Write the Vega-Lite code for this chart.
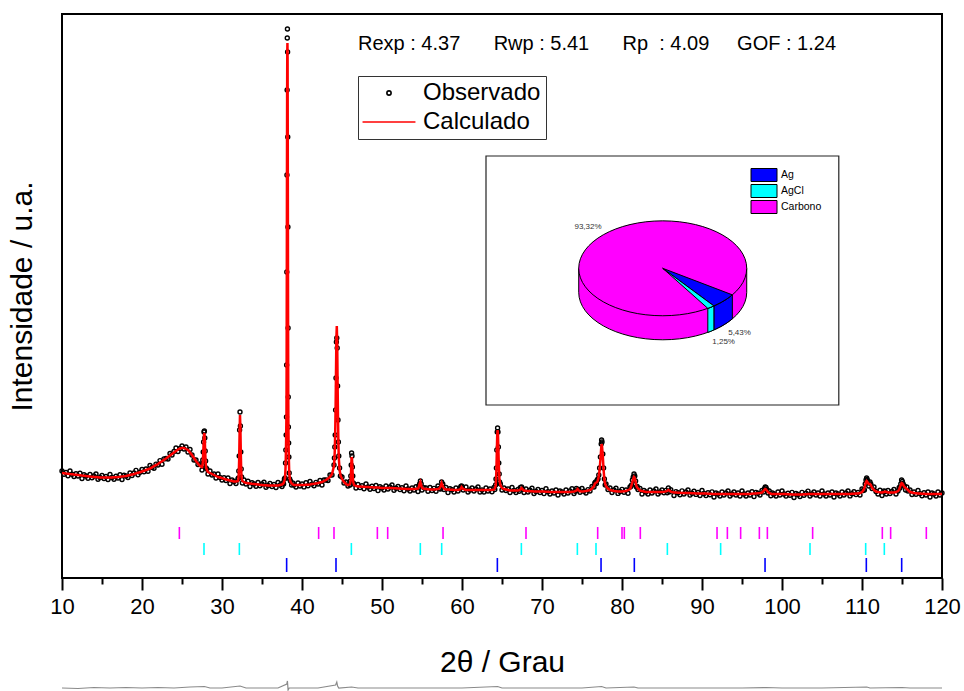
{
"$schema": "https://vega.github.io/schema/vega-lite/v6.json",
"width": 880, "height": 564,
"autosize": {"type": "none"},
"padding": {"left": 62, "top": 14, "right": 22, "bottom": 113},
"background": "white",
"config": {"font": "Liberation Sans", "view": {"stroke": "black", "strokeWidth": 2}},
"resolve": {"axis": {"x": "independent"}},
"datasets": {
"xrd": [
{"t":10,"c":105,"o":107},{"t":10.25,"c":104.8,"o":103.8},{"t":10.5,"c":104.5,"o":105.5},{"t":10.75,"c":104.3,"o":102.3},{"t":11,"c":104,"o":107},{"t":11.25,"c":103.8,"o":103.8},{"t":11.5,"c":103.5,"o":101.5},{"t":11.75,"c":103.3,"o":104.3},{"t":12,"c":103,"o":102},{"t":12.25,"c":102.8,"o":104.8},{"t":12.5,"c":102.5,"o":99.5},{"t":12.75,"c":102.3,"o":103.3},{"t":13,"c":102,"o":102},{"t":13.25,"c":101.8,"o":99.8},{"t":13.5,"c":101.5,"o":103.5},{"t":13.75,"c":101.3,"o":100.3},{"t":14,"c":101,"o":102},{"t":14.25,"c":101,"o":104},{"t":14.5,"c":100.8,"o":98.8},{"t":14.75,"c":100.6,"o":100.6},
{"t":15,"c":100.5,"o":102.5},{"t":15.25,"c":100.5,"o":99.5},{"t":15.5,"c":100.5,"o":101.5},{"t":15.75,"c":100.5,"o":98.5},{"t":16,"c":100.5,"o":103.5},{"t":16.25,"c":100.6,"o":100.6},{"t":16.5,"c":100.7,"o":98.7},{"t":16.75,"c":100.8,"o":101.8},{"t":17,"c":101,"o":100},{"t":17.25,"c":101.2,"o":103.2},{"t":17.5,"c":101.5,"o":98.5},{"t":17.75,"c":101.7,"o":102.7},{"t":18,"c":102,"o":102},{"t":18.25,"c":102.5,"o":100.5},{"t":18.5,"c":103,"o":105},{"t":18.75,"c":103.5,"o":102.5},{"t":19,"c":104,"o":105},{"t":19.25,"c":104.6,"o":107.6},{"t":19.5,"c":105.2,"o":103.2},{"t":19.75,"c":105.8,"o":105.8},
{"t":20,"c":106.5,"o":108.5},{"t":20.25,"c":107.2,"o":106.2},{"t":20.5,"c":108,"o":109},{"t":20.75,"c":108.7,"o":106.7},{"t":21,"c":109.5,"o":112.5},{"t":21.25,"c":110.6,"o":110.6},{"t":21.5,"c":111.8,"o":109.8},{"t":21.75,"c":112.9,"o":113.9},{"t":22,"c":114,"o":113},{"t":22.25,"c":115.4,"o":117.4},{"t":22.5,"c":116.8,"o":113.8},{"t":22.75,"c":118.1,"o":119.1},{"t":23,"c":119.5,"o":119.5},{"t":23.25,"c":121,"o":119},{"t":23.5,"c":122.5,"o":124.5},{"t":23.75,"c":124,"o":123},{"t":24,"c":125.5,"o":126.5},{"t":24.25,"c":127,"o":130},{"t":24.5,"c":128.5,"o":126.5},{"t":24.75,"c":129.5,"o":129.5},
{"t":25,"c":130,"o":132},{"t":25.25,"c":130,"o":129},{"t":25.5,"c":129,"o":131},{"t":25.75,"c":128,"o":126},{"t":26,"c":125.5,"o":128.5},{"t":26.25,"c":123,"o":123},{"t":26.5,"c":120,"o":118},{"t":26.75,"c":117,"o":118},{"t":27,"c":114.5,"o":113.5},{"t":27.25,"c":112,"o":114},{"t":27.5,"c":111,"o":108},
{"t":27.55,"c":112,"o":113},{"t":27.6,"c":116,"o":118},{"t":27.65,"c":124,"o":126},{"t":27.7,"c":134,"o":136},{"t":27.75,"c":143,"o":146},{"t":27.8,"c":145,"o":147},{"t":27.85,"c":138,"o":140},{"t":27.9,"c":126,"o":127},{"t":27.95,"c":116,"o":117},{"t":28,"c":111,"o":110},{"t":28.1,"c":108,"o":109},{"t":28.25,"c":106,"o":104},{"t":28.5,"c":105,"o":107},{"t":28.75,"c":104,"o":103},{"t":29,"c":103,"o":104},{"t":29.25,"c":102,"o":100},{"t":29.5,"c":101,"o":104},{"t":29.75,"c":100.5,"o":100.5},
{"t":30,"c":100,"o":98},{"t":30.25,"c":99.2,"o":100.2},{"t":30.5,"c":98.5,"o":97.5},{"t":30.75,"c":98,"o":100},{"t":31,"c":97.5,"o":94.5},{"t":31.25,"c":97,"o":98},{"t":31.5,"c":96.5,"o":96.5},{"t":31.75,"c":96.5,"o":94.5},{"t":32,"c":97,"o":99},
{"t":32.05,"c":99,"o":100},{"t":32.1,"c":105,"o":107},{"t":32.15,"c":120,"o":122},{"t":32.2,"c":145,"o":148},{"t":32.25,"c":163,"o":166},{"t":32.3,"c":150,"o":152},{"t":32.35,"c":125,"o":126},{"t":32.4,"c":108,"o":109},{"t":32.45,"c":100,"o":101},{"t":32.55,"c":97,"o":95},{"t":32.75,"c":96,"o":98},
{"t":33,"c":95,"o":94},{"t":33.25,"c":94.8,"o":96.8},{"t":33.5,"c":94.5,"o":91.5},{"t":33.75,"c":94.2,"o":95.2},{"t":34,"c":94,"o":94},{"t":34.25,"c":93.8,"o":91.8},{"t":34.5,"c":93.5,"o":95.5},{"t":34.75,"c":93.2,"o":92.2},{"t":35,"c":93,"o":94},{"t":35.25,"c":92.8,"o":95.8},{"t":35.5,"c":92.7,"o":90.7},{"t":35.75,"c":92.6,"o":92.6},{"t":36,"c":92.5,"o":94.5},{"t":36.25,"c":92.5,"o":91.5},{"t":36.5,"c":92.5,"o":93.5},{"t":36.75,"c":92.5,"o":90.5},{"t":37,"c":92.5,"o":95.5},{"t":37.25,"c":93,"o":93},{"t":37.5,"c":93.5,"o":91.5},{"t":37.6,"c":94,"o":95},{"t":37.7,"c":95,"o":94},{"t":37.8,"c":97,"o":99},
{"t":37.88,"c":100,"o":100},{"t":37.94,"c":110,"o":115},{"t":37.98,"c":122,"o":128},{"t":38.02,"c":140,"o":143},{"t":38.06,"c":165,"o":161},{"t":38.08,"c":215,"o":213},{"t":38.1,"c":300,"o":306},{"t":38.12,"c":400,"o":403},{"t":38.14,"c":480,"o":488},{"t":38.16,"c":525,"o":540},{"t":38.18,"c":535,"o":549},{"t":38.2,"c":518,"o":526},{"t":38.22,"c":440,"o":441},{"t":38.24,"c":350,"o":351},{"t":38.26,"c":255,"o":250},{"t":38.28,"c":185,"o":181},{"t":38.3,"c":152,"o":151},{"t":38.33,"c":130,"o":135},{"t":38.36,"c":118,"o":121},{"t":38.4,"c":106,"o":105},{"t":38.46,"c":100,"o":99},{"t":38.55,"c":96.5,"o":97},{"t":38.7,"c":94.5,"o":93},{"t":38.85,"c":93.5,"o":95},
{"t":39,"c":93,"o":93},{"t":39.25,"c":93,"o":91},{"t":39.5,"c":93,"o":95},{"t":39.75,"c":93,"o":92},{"t":40,"c":93,"o":94},{"t":40.25,"c":93.1,"o":91.1},{"t":40.5,"c":93.2,"o":95.2},{"t":40.75,"c":93.3,"o":92.3},{"t":41,"c":93.5,"o":96.5},{"t":41.25,"c":93.9,"o":93.9},{"t":41.5,"c":94.2,"o":92.2},{"t":41.75,"c":94.6,"o":95.6},{"t":42,"c":95,"o":94},{"t":42.25,"c":95.5,"o":97.5},{"t":42.5,"c":96,"o":93},{"t":42.75,"c":97,"o":98},{"t":43,"c":98,"o":98},{"t":43.25,"c":99.5,"o":97.5},{"t":43.5,"c":101,"o":103},{"t":43.75,"c":104,"o":103},{"t":44,"c":112,"o":113},
{"t":44.05,"c":118,"o":120},{"t":44.1,"c":128,"o":131},{"t":44.15,"c":145,"o":143},{"t":44.2,"c":170,"o":168},{"t":44.25,"c":205,"o":200},{"t":44.3,"c":240,"o":236},{"t":44.35,"c":252,"o":240},{"t":44.4,"c":235,"o":230},{"t":44.45,"c":195,"o":192},{"t":44.5,"c":160,"o":158},{"t":44.55,"c":135,"o":136},{"t":44.6,"c":120,"o":122},{"t":44.7,"c":108,"o":110},{"t":44.8,"c":103,"o":102},{"t":45,"c":99,"o":101},{"t":45.25,"c":96,"o":95},{"t":45.5,"c":94,"o":96},{"t":45.75,"c":93,"o":92},{"t":46,"c":94,"o":93},
{"t":46.05,"c":96,"o":97},{"t":46.1,"c":100,"o":102},{"t":46.15,"c":110,"o":113},{"t":46.2,"c":121,"o":125},{"t":46.25,"c":119,"o":122},{"t":46.3,"c":110,"o":111},{"t":46.35,"c":101,"o":102},{"t":46.4,"c":96,"o":95},{"t":46.5,"c":93,"o":94},{"t":46.75,"c":92,"o":90},
{"t":47,"c":91.5,"o":93.5},{"t":47.25,"c":91.4,"o":90.4},{"t":47.5,"c":91.3,"o":92.3},{"t":47.75,"c":91.2,"o":89.2},{"t":48,"c":91,"o":94},{"t":48.25,"c":91,"o":91},{"t":48.5,"c":90.8,"o":88.8},{"t":48.75,"c":90.7,"o":91.7},{"t":49,"c":90.5,"o":89.5},{"t":49.25,"c":90.5,"o":92.5},{"t":49.5,"c":90.4,"o":87.4},{"t":49.75,"c":90.2,"o":91.2},{"t":50,"c":90,"o":90},{"t":50.25,"c":90,"o":88},{"t":50.5,"c":90,"o":92},{"t":50.75,"c":90,"o":89},{"t":51,"c":90,"o":91},{"t":51.25,"c":90,"o":93},{"t":51.5,"c":89.8,"o":87.8},{"t":51.75,"c":89.7,"o":89.7},{"t":52,"c":89.5,"o":91.5},{"t":52.25,"c":89.4,"o":88.4},{"t":52.5,"c":89.3,"o":90.3},{"t":52.75,"c":89.2,"o":87.2},{"t":53,"c":89,"o":92},{"t":53.25,"c":89,"o":89},{"t":53.5,"c":89,"o":87},{"t":53.75,"c":89,"o":90},{"t":54,"c":89,"o":88},{"t":54.25,"c":89.2,"o":91.2},{"t":54.5,"c":89.5,"o":86.5},
{"t":54.6,"c":91,"o":92},{"t":54.7,"c":94,"o":94},{"t":54.8,"c":96,"o":97},{"t":54.9,"c":93,"o":94},{"t":55,"c":90,"o":88},{"t":55.25,"c":89.2,"o":90.2},{"t":55.5,"c":89,"o":90},{"t":55.75,"c":88.8,"o":86.8},{"t":56,"c":88.5,"o":90.5},{"t":56.25,"c":88.5,"o":87.5},{"t":56.5,"c":88.6,"o":89.6},{"t":56.75,"c":88.8,"o":86.8},{"t":57,"c":89,"o":92},{"t":57.15,"c":89.5,"o":89.5},{"t":57.3,"c":91,"o":89},{"t":57.45,"c":95,"o":96},{"t":57.6,"c":92,"o":94},{"t":57.75,"c":89.5,"o":88.5},
{"t":58,"c":88.5,"o":90.5},{"t":58.25,"c":88.4,"o":85.4},{"t":58.5,"c":88.3,"o":89.3},{"t":58.75,"c":88.2,"o":88.2},{"t":59,"c":88,"o":86},{"t":59.25,"c":88,"o":90},{"t":59.5,"c":88,"o":87},{"t":59.75,"c":88.5,"o":89.5},{"t":59.85,"c":89.5,"o":91.5},{"t":59.95,"c":91,"o":92},{"t":60.05,"c":90,"o":91},{"t":60.15,"c":89,"o":88},{"t":60.5,"c":88,"o":91},{"t":60.75,"c":88,"o":86},{"t":61,"c":88,"o":88},{"t":61.25,"c":88,"o":90},{"t":61.5,"c":88,"o":87},{"t":61.75,"c":88,"o":89},{"t":62,"c":88,"o":91},{"t":62.25,"c":88,"o":86},{"t":62.5,"c":88,"o":88},{"t":62.75,"c":88,"o":86},{"t":63,"c":88,"o":90},{"t":63.25,"c":88,"o":87},{"t":63.5,"c":88,"o":89},{"t":63.75,"c":88.2,"o":86.2},{"t":64,"c":88.5,"o":90.5},{"t":64.1,"c":89.5,"o":88.5},{"t":64.2,"c":92,"o":93},
{"t":64.25,"c":97,"o":99},{"t":64.3,"c":108,"o":110},{"t":64.35,"c":125,"o":128},{"t":64.4,"c":142,"o":146},{"t":64.45,"c":148,"o":150},{"t":64.5,"c":143,"o":146},{"t":64.55,"c":128,"o":131},{"t":64.6,"c":113,"o":115},{"t":64.65,"c":103,"o":104},{"t":64.7,"c":97,"o":96},{"t":64.8,"c":93,"o":94},{"t":65,"c":90,"o":88},{"t":65.25,"c":89,"o":90},{"t":65.5,"c":88.5,"o":87.5},{"t":65.75,"c":88,"o":89},{"t":66,"c":87.5,"o":85.5},{"t":66.25,"c":87.5,"o":90.5},{"t":66.5,"c":87.5,"o":87.5},{"t":66.75,"c":87.5,"o":85.5},{"t":67,"c":87.5,"o":88.5},{"t":67.15,"c":87.8,"o":86.8},{"t":67.3,"c":88.5,"o":90.5},{"t":67.45,"c":90,"o":91},{"t":67.6,"c":88.5,"o":88.5},{"t":67.75,"c":87.5,"o":85.5},
{"t":68,"c":87,"o":89},{"t":68.25,"c":87,"o":86},{"t":68.5,"c":86.8,"o":87.8},{"t":68.75,"c":86.7,"o":89.7},{"t":69,"c":86.5,"o":84.5},{"t":69.25,"c":86.5,"o":86.5},{"t":69.5,"c":86.5,"o":88.5},{"t":69.75,"c":86.5,"o":85.5},{"t":70,"c":86.5,"o":87.5},{"t":70.25,"c":86.4,"o":84.4},{"t":70.5,"c":86.3,"o":89.3},{"t":70.75,"c":86.2,"o":86.2},{"t":71,"c":86,"o":84},{"t":71.25,"c":86,"o":87},{"t":71.5,"c":86,"o":85},{"t":71.75,"c":86,"o":88},{"t":72,"c":86,"o":83},{"t":72.25,"c":86,"o":87},{"t":72.5,"c":86,"o":86},{"t":72.75,"c":86,"o":84},{"t":73,"c":86,"o":88},{"t":73.25,"c":86,"o":85},{"t":73.5,"c":86.1,"o":87.1},{"t":73.75,"c":86.3,"o":89.3},{"t":74,"c":86.5,"o":84.5},{"t":74.15,"c":86.8,"o":86.8},{"t":74.3,"c":87.5,"o":89.5},{"t":74.45,"c":89,"o":88},{"t":74.6,"c":87.5,"o":88.5},{"t":74.75,"c":86.8,"o":85.8},
{"t":75,"c":86.5,"o":89.5},{"t":75.25,"c":86.7,"o":86.7},{"t":75.5,"c":87,"o":85},{"t":75.75,"c":87.4,"o":88.4},{"t":76,"c":88,"o":87},{"t":76.25,"c":89.5,"o":91.5},{"t":76.5,"c":92,"o":91},{"t":76.6,"c":94,"o":95},{"t":76.7,"c":95,"o":96},{"t":76.8,"c":95.5,"o":94.5},{"t":76.9,"c":96,"o":98},{"t":77,"c":98,"o":99},{"t":77.1,"c":102,"o":103},{"t":77.2,"c":108,"o":110},{"t":77.3,"c":118,"o":121},{"t":77.4,"c":130,"o":134},{"t":77.45,"c":134,"o":138},{"t":77.5,"c":132,"o":136},{"t":77.6,"c":122,"o":124},{"t":77.7,"c":108,"o":110},{"t":77.8,"c":98,"o":99},{"t":77.9,"c":94,"o":93},{"t":78,"c":92,"o":94},{"t":78.25,"c":89.5,"o":88.5},{"t":78.5,"c":88,"o":90},{"t":78.75,"c":87.5,"o":85.5},
{"t":79,"c":87,"o":88},{"t":79.25,"c":86.8,"o":89.8},{"t":79.5,"c":86.6,"o":84.6},{"t":79.75,"c":86.5,"o":86.5},{"t":80,"c":86.6,"o":88.6},{"t":80.25,"c":86.8,"o":85.8},{"t":80.5,"c":87,"o":88},{"t":80.75,"c":87.8,"o":84.8},{"t":81,"c":89,"o":91},{"t":81.1,"c":90.5,"o":91.5},{"t":81.2,"c":93,"o":93},{"t":81.3,"c":96,"o":98},{"t":81.4,"c":99,"o":101},{"t":81.5,"c":101,"o":104},{"t":81.6,"c":100,"o":102},{"t":81.7,"c":96,"o":97},{"t":81.8,"c":92,"o":91},{"t":81.9,"c":90.5,"o":91.5},{"t":82,"c":89.5,"o":88.5},{"t":82.25,"c":87.5,"o":89.5},{"t":82.5,"c":87,"o":84},{"t":82.75,"c":86.5,"o":87.5},
{"t":83,"c":86,"o":86},{"t":83.25,"c":86,"o":84},{"t":83.5,"c":86,"o":88},{"t":83.75,"c":86,"o":85},{"t":84,"c":86,"o":87},{"t":84.25,"c":86,"o":89},{"t":84.5,"c":86,"o":84},{"t":84.75,"c":86,"o":86},{"t":85,"c":86,"o":88},{"t":85.25,"c":86.2,"o":85.2},{"t":85.5,"c":86.6,"o":87.6},{"t":85.65,"c":87.2,"o":85.2},{"t":85.8,"c":88,"o":90},{"t":85.95,"c":87.3,"o":86.3},{"t":86.1,"c":86.3,"o":88.3},{"t":86.5,"c":85.5,"o":82.5},{"t":86.75,"c":85.4,"o":86.4},{"t":87,"c":85.3,"o":85.3},{"t":87.25,"c":85.2,"o":83.2},{"t":87.5,"c":85.1,"o":87.1},{"t":87.75,"c":85,"o":84},{"t":88,"c":85,"o":86},{"t":88.25,"c":85,"o":88},{"t":88.5,"c":84.9,"o":82.9},{"t":88.75,"c":84.8,"o":84.8},{"t":89,"c":84.7,"o":86.7},{"t":89.25,"c":84.6,"o":83.6},{"t":89.5,"c":84.5,"o":85.5},{"t":89.75,"c":84.5,"o":82.5},
{"t":90,"c":84.5,"o":87.5},{"t":90.25,"c":84.5,"o":84.5},{"t":90.5,"c":84.4,"o":82.4},{"t":90.75,"c":84.3,"o":85.3},{"t":91,"c":84.2,"o":83.2},{"t":91.25,"c":84.1,"o":86.1},{"t":91.5,"c":84,"o":81},{"t":91.75,"c":84,"o":85},{"t":92,"c":84,"o":84},{"t":92.25,"c":84,"o":82},{"t":92.5,"c":84,"o":86},{"t":92.75,"c":84,"o":83},{"t":93,"c":84,"o":85},{"t":93.25,"c":84,"o":87},{"t":93.5,"c":84,"o":82},{"t":93.75,"c":84,"o":84},{"t":94,"c":84,"o":86},{"t":94.25,"c":84,"o":83},{"t":94.5,"c":84,"o":85},{"t":94.75,"c":84,"o":82},{"t":95,"c":84,"o":87},{"t":95.25,"c":84,"o":84},{"t":95.5,"c":84,"o":82},{"t":95.75,"c":84,"o":85},{"t":96,"c":84,"o":83},{"t":96.25,"c":84.2,"o":86.2},{"t":96.5,"c":84.4,"o":81.4},{"t":96.75,"c":84.6,"o":85.6},{"t":97,"c":84.8,"o":84.8},{"t":97.25,"c":85,"o":83},{"t":97.5,"c":85.5,"o":87.5},{"t":97.7,"c":87,"o":86},{"t":97.8,"c":88.3,"o":89.3},{"t":97.9,"c":89,"o":91},{"t":98,"c":88.5,"o":90.5},{"t":98.1,"c":87.5,"o":88.5},{"t":98.25,"c":86,"o":85},{"t":98.4,"c":85,"o":87},{"t":98.6,"c":84.3,"o":82.3},{"t":98.8,"c":84,"o":85},
{"t":99,"c":84,"o":84},{"t":99.25,"c":84,"o":82},{"t":99.5,"c":84,"o":86},{"t":99.75,"c":84,"o":83},{"t":100,"c":84,"o":87},{"t":100.25,"c":84,"o":84},{"t":100.5,"c":83.9,"o":81.9},{"t":100.75,"c":83.8,"o":84.8},{"t":101,"c":83.7,"o":82.7},{"t":101.25,"c":83.6,"o":85.6},{"t":101.5,"c":83.5,"o":80.5},{"t":101.75,"c":83.5,"o":84.5},{"t":102,"c":83.5,"o":83.5},{"t":102.25,"c":83.5,"o":81.5},{"t":102.5,"c":83.6,"o":85.6},{"t":102.75,"c":83.7,"o":82.7},{"t":103,"c":83.8,"o":84.8},{"t":103.25,"c":83.9,"o":86.9},{"t":103.5,"c":84,"o":82},{"t":103.75,"c":84,"o":84},{"t":104,"c":84,"o":86},{"t":104.25,"c":84,"o":83},{"t":104.5,"c":84,"o":85},{"t":104.75,"c":84,"o":82},{"t":105,"c":84,"o":87},{"t":105.25,"c":84,"o":84},{"t":105.5,"c":84,"o":82},{"t":105.75,"c":84,"o":85},{"t":106,"c":84,"o":83},{"t":106.25,"c":84,"o":86},{"t":106.5,"c":84,"o":81},{"t":106.75,"c":84,"o":85},{"t":107,"c":84,"o":84},{"t":107.25,"c":84,"o":82},{"t":107.5,"c":84,"o":86},{"t":107.75,"c":84,"o":83},{"t":108,"c":84,"o":85},{"t":108.25,"c":84,"o":87},{"t":108.5,"c":84.1,"o":82.1},{"t":108.75,"c":84.2,"o":84.2},{"t":109,"c":84.3,"o":86.3},{"t":109.25,"c":84.4,"o":83.4},{"t":109.5,"c":84.5,"o":85.5},{"t":109.75,"c":85,"o":83},
{"t":110,"c":86,"o":89},{"t":110.15,"c":87.5,"o":87.5},{"t":110.3,"c":90,"o":88},{"t":110.4,"c":93,"o":94},{"t":110.5,"c":96,"o":98},{"t":110.58,"c":97,"o":100},{"t":110.65,"c":96.5,"o":98.5},{"t":110.75,"c":95,"o":96},{"t":110.85,"c":94,"o":92},{"t":111,"c":94,"o":96},{"t":111.1,"c":93,"o":94},{"t":111.25,"c":90.5,"o":89.5},{"t":111.5,"c":88,"o":91},{"t":111.75,"c":86.5,"o":86.5},{"t":112,"c":86,"o":84},{"t":112.25,"c":85.7,"o":87.7},{"t":112.5,"c":85.5,"o":82.5},{"t":112.75,"c":86,"o":87},{"t":112.9,"c":86.5,"o":86.5},{"t":113.05,"c":86,"o":84},{"t":113.25,"c":85.5,"o":87.5},{"t":113.5,"c":85.5,"o":84.5},{"t":113.75,"c":85.5,"o":86.5},{"t":114,"c":85.5,"o":88.5},{"t":114.25,"c":86,"o":84},{"t":114.5,"c":87,"o":87},{"t":114.65,"c":88.5,"o":90.5},{"t":114.75,"c":91,"o":90},{"t":114.85,"c":93,"o":94},{"t":114.95,"c":95,"o":98},{"t":115.05,"c":94.5,"o":96.5},{"t":115.15,"c":93,"o":94},{"t":115.3,"c":91,"o":92},{"t":115.45,"c":90,"o":88},{"t":115.6,"c":89,"o":91},{"t":115.75,"c":88,"o":87},
{"t":116,"c":86,"o":88},{"t":116.25,"c":85.5,"o":83.5},{"t":116.5,"c":85,"o":86},{"t":116.75,"c":84.8,"o":83.8},{"t":117,"c":84.5,"o":87.5},{"t":117.25,"c":84.4,"o":84.4},{"t":117.5,"c":84.3,"o":82.3},{"t":117.75,"c":84.2,"o":85.2},{"t":118,"c":84,"o":83},{"t":118.25,"c":84,"o":86},{"t":118.5,"c":84,"o":81},{"t":118.75,"c":84,"o":85},{"t":119,"c":84,"o":84},{"t":119.25,"c":84,"o":82},{"t":119.5,"c":84,"o":86},{"t":119.75,"c":84,"o":83},{"t":120,"c":84,"o":85}
],
"dif": [
{"t":10,"d":-110},{"t":12,"d":-110.5},{"t":14,"d":-109.5},{"t":16,"d":-110},{"t":18,"d":-109.5},{"t":20,"d":-110},{"t":22,"d":-109.5},{"t":24,"d":-110},{"t":26,"d":-109},{"t":27.8,"d":-108.5},{"t":28.5,"d":-110},{"t":30,"d":-110},{"t":32.25,"d":-108},{"t":33,"d":-110},{"t":35,"d":-110},{"t":37,"d":-110},{"t":38.1,"d":-106},{"t":38.18,"d":-103},{"t":38.26,"d":-112},{"t":38.4,"d":-110},{"t":40,"d":-110},{"t":42,"d":-110},{"t":44.2,"d":-107},{"t":44.35,"d":-104},{"t":44.45,"d":-108},{"t":44.6,"d":-110},{"t":46.2,"d":-109},{"t":47,"d":-110},{"t":50,"d":-110},{"t":55,"d":-110},{"t":60,"d":-110},{"t":64.45,"d":-108.5},{"t":65,"d":-110},{"t":70,"d":-110},{"t":75,"d":-110},{"t":77.45,"d":-108.5},{"t":78,"d":-110},{"t":81.5,"d":-109},{"t":82,"d":-110},{"t":85,"d":-110},{"t":90,"d":-110},{"t":95,"d":-110},{"t":98,"d":-109.5},{"t":100,"d":-110},{"t":105,"d":-110},{"t":110.6,"d":-109},{"t":111,"d":-110},{"t":115,"d":-109.5},{"t":116,"d":-110},{"t":120,"d":-110}
],
"reflexoes": [
{"fase":"Carbono","t":24.67},{"fase":"Carbono","t":42.08},{"fase":"Carbono","t":44.0},{"fase":"Carbono","t":49.42},{"fase":"Carbono","t":50.71},{"fase":"Carbono","t":57.63},{"fase":"Carbono","t":68.0},{"fase":"Carbono","t":76.96},{"fase":"Carbono","t":80.0},{"fase":"Carbono","t":80.29},{"fase":"Carbono","t":82.29},{"fase":"Carbono","t":91.88},{"fase":"Carbono","t":93.17},{"fase":"Carbono","t":94.83},{"fase":"Carbono","t":97.17},{"fase":"Carbono","t":98.17},{"fase":"Carbono","t":103.83},{"fase":"Carbono","t":112.54},{"fase":"Carbono","t":113.58},{"fase":"Carbono","t":118.04},
{"fase":"AgCl","t":27.75},{"fase":"AgCl","t":32.17},{"fase":"AgCl","t":46.17},{"fase":"AgCl","t":54.79},{"fase":"AgCl","t":57.46},{"fase":"AgCl","t":67.42},{"fase":"AgCl","t":74.42},{"fase":"AgCl","t":76.75},{"fase":"AgCl","t":85.67},{"fase":"AgCl","t":92.33},{"fase":"AgCl","t":103.5},{"fase":"AgCl","t":110.46},{"fase":"AgCl","t":112.79},
{"fase":"Ag","t":38.08},{"fase":"Ag","t":44.25},{"fase":"Ag","t":64.42},{"fase":"Ag","t":77.38},{"fase":"Ag","t":81.54},{"fase":"Ag","t":97.88},{"fase":"Ag","t":110.54},{"fase":"Ag","t":114.96}
],
"fases": [
{"fase":"Ag","pct":5.43,"rotulo":"5,43%"},{"fase":"AgCl","pct":1.25,"rotulo":"1,25%"},{"fase":"Carbono","pct":93.32,"rotulo":"93,32%"}
],
"pizza": [
{"parte":"lado","fase":"Carbono"},{"parte":"lado_ag","fase":"Ag"},{"parte":"lado_agcl","fase":"AgCl"},{"parte":"topo","fase":"Carbono"},{"parte":"fatia_ag","fase":"Ag"},{"parte":"fatia_agcl","fase":"AgCl"}
]
},
"layer": [
{
"data": {"name": "dif"},
"mark": {"type": "line", "stroke": "#8a8a8a", "strokeWidth": 1.2},
"encoding": {
"x": {"field": "t", "type": "quantitative", "scale": {"domain": [10, 120], "nice": false, "zero": false},
"axis": {"orient": "bottom", "values": [15,25,35,45,55,65,75,85,95,105,115], "tickSize": 6, "tickWidth": 2, "tickColor": "black", "labels": false, "domain": false, "grid": false, "title": null}},
"y": {"field": "d", "type": "quantitative"}}
},
{
"data": {"name": "xrd"},
"mark": {"type": "point", "filled": false, "size": 100, "strokeWidth": 1.4, "opacity": 1},
"encoding": {
"x": {"field": "t", "type": "quantitative",
"axis": {"orient": "bottom", "values": [10,20,30,40,50,60,70,80,90,100,110,120],
"labelFlush": false, "labelOverlap": false,
"tickSize": 12, "tickWidth": 2, "tickColor": "black", "domain": false, "grid": false,
"labelFontSize": 22, "labelColor": "black", "labelPadding": 6,
"title": "2θ / Grau", "titleFontSize": 30, "titleFontWeight": "normal", "titleColor": "black", "titlePadding": 30}},
"y": {"field": "o", "type": "quantitative", "scale": {"domain": [0, 564], "nice": false, "zero": false},
"axis": {"title": "Intensidade / u.a.", "labels": false, "ticks": false, "domain": false, "grid": false,
"titleFontSize": 30, "titleFontWeight": "normal", "titleColor": "black", "titlePadding": 25}},
"stroke": {"datum": "Observado", "type": "nominal",
"scale": {"domain": ["Observado", "Calculado"], "range": ["black", "#ff0000"]},
"legend": {"orient": "none", "legendX": 296, "legendY": 62, "title": null, "padding": 5,
"strokeColor": "#333", "fillColor": "white", "labelFontSize": 24, "labelColor": "black",
"symbolSize": 112, "symbolStrokeWidth": 1.6, "symbolOffset": 14, "labelOffset": 22, "rowPadding": 5}},
"shape": {"datum": "Observado", "type": "nominal",
"scale": {"domain": ["Observado", "Calculado"], "range": ["M-0.4,0C-0.4,-0.22 -0.22,-0.4 0,-0.4C0.22,-0.4 0.4,-0.22 0.4,0C0.4,0.22 0.22,0.4 0,0.4C-0.22,0.4 -0.4,0.22 -0.4,0Z", "M-5,0L5,0"]}}
}
},
{
"data": {"name": "xrd"},
"mark": {"type": "line", "strokeWidth": 2.5},
"encoding": {"x": {"field": "t", "type": "quantitative", "axis": null}, "y": {"field": "c", "type": "quantitative"},
"stroke": {"datum": "Calculado", "type": "nominal"}}
},
{
"data": {"name": "reflexoes"},
"transform": [{"filter": "datum.fase === 'Carbono'"}],
"mark": {"type": "rule", "strokeWidth": 1.6, "color": "#FF00FF"},
"encoding": {"x": {"field": "t", "type": "quantitative", "axis": null}, "y": {"datum": 39}, "y2": {"datum": 51}}
},
{
"data": {"name": "reflexoes"},
"transform": [{"filter": "datum.fase === 'AgCl'"}],
"mark": {"type": "rule", "strokeWidth": 1.6, "color": "#00FFFF"},
"encoding": {"x": {"field": "t", "type": "quantitative", "axis": null}, "y": {"datum": 23}, "y2": {"datum": 35}}
},
{
"data": {"name": "reflexoes"},
"transform": [{"filter": "datum.fase === 'Ag'"}],
"mark": {"type": "rule", "strokeWidth": 1.6, "color": "#0000FF"},
"encoding": {"x": {"field": "t", "type": "quantitative", "axis": null}, "y": {"datum": 6}, "y2": {"datum": 20}}
},
{
"data": {"values": [{"rotulo": "Rexp : 4.37\u00a0\u00a0\u00a0\u00a0\u00a0\u00a0Rwp : 5.41\u00a0\u00a0\u00a0\u00a0\u00a0\u00a0Rp\u00a0\u00a0: 4.09\u00a0\u00a0\u00a0\u00a0\u00a0GOF : 1.24"}]},
"mark": {"type": "text", "align": "left", "baseline": "alphabetic", "fontSize": 20, "color": "black"},
"encoding": {"x": {"datum": 47, "axis": null}, "y": {"datum": 528}, "text": {"field": "rotulo"}}
},
{
"data": {"values": [{"inset": "composicao"}]},
"mark": {"type": "rect", "fill": "white", "stroke": "#222", "strokeWidth": 1.2},
"encoding": {"x": {"datum": 63, "axis": null}, "x2": {"datum": 107.1}, "y": {"datum": 422}, "y2": {"datum": 173}}
},
{
"data": {"name": "pizza"},
"transform": [{"filter": "datum.parte === 'lado'"}],
"mark": {"type": "point", "filled": true, "size": 28224, "stroke": "black", "strokeWidth": 1, "opacity": 1,
"shape": "M-1,0L-1,0.286C-1,0.598 -0.5523,0.851 0,0.851C0.5523,0.851 1,0.598 1,0.286L1,0Z"},
"encoding": {"x": {"datum": 85.09, "axis": null}, "y": {"datum": 309.7},
"fill": {"field": "fase", "type": "nominal",
"scale": {"domain": ["Ag", "AgCl", "Carbono"], "range": ["#0000FF", "#00FFFF", "#FF00FF"]},
"legend": {"orient": "none", "legendX": 689, "legendY": 154, "title": null, "padding": 0,
"labelFontSize": 10.5, "labelColor": "black", "symbolType": "M-2,-1L2,-1L2,1L-2,1Z", "symbolSize": 169,
"symbolStrokeColor": "black", "symbolStrokeWidth": 1, "symbolOffset": 6, "labelOffset": 10, "rowPadding": -2.5}}}
},
{
"data": {"name": "pizza"},
"transform": [{"filter": "datum.parte === 'lado_ag'"}],
"mark": {"type": "point", "filled": true, "size": 28224, "stroke": "black", "strokeWidth": 1, "opacity": 1,
"shape": "M0.829,0.316L0.766,0.363L0.695,0.406L0.609,0.448L0.609,0.734L0.695,0.692L0.766,0.649L0.829,0.602Z"},
"encoding": {"x": {"datum": 85.09, "axis": null}, "y": {"datum": 309.7}, "fill": {"field": "fase", "type": "nominal"}}
},
{
"data": {"name": "pizza"},
"transform": [{"filter": "datum.parte === 'lado_agcl'"}],
"mark": {"type": "point", "filled": true, "size": 28224, "stroke": "black", "strokeWidth": 1, "opacity": 1,
"shape": "M0.609,0.448L0.574,0.463L0.537,0.477L0.537,0.763L0.574,0.749L0.609,0.734Z"},
"encoding": {"x": {"datum": 85.09, "axis": null}, "y": {"datum": 309.7}, "fill": {"field": "fase", "type": "nominal"}}
},
{
"data": {"name": "pizza"},
"transform": [{"filter": "datum.parte === 'topo'"}],
"mark": {"type": "point", "filled": true, "size": 28224, "stroke": "black", "strokeWidth": 1, "opacity": 1,
"shape": "M-1,0C-1,-0.312 -0.5523,-0.565 0,-0.565C0.5523,-0.565 1,-0.312 1,0C1,0.312 0.5523,0.565 0,0.565C-0.5523,0.565 -1,0.312 -1,0Z"},
"encoding": {"x": {"datum": 85.09, "axis": null}, "y": {"datum": 309.7}, "fill": {"field": "fase", "type": "nominal"}}
},
{
"data": {"name": "pizza"},
"transform": [{"filter": "datum.parte === 'fatia_ag'"}],
"mark": {"type": "point", "filled": true, "size": 28224, "stroke": "black", "strokeWidth": 1, "opacity": 1,
"shape": "M0,0L0.829,0.316L0.766,0.363L0.695,0.406L0.609,0.448Z"},
"encoding": {"x": {"datum": 85.09, "axis": null}, "y": {"datum": 309.7}, "fill": {"field": "fase", "type": "nominal"}}
},
{
"data": {"name": "pizza"},
"transform": [{"filter": "datum.parte === 'fatia_agcl'"}],
"mark": {"type": "point", "filled": true, "size": 28224, "stroke": "black", "strokeWidth": 1, "opacity": 1,
"shape": "M0,0L0.609,0.448L0.574,0.463L0.537,0.477Z"},
"encoding": {"x": {"datum": 85.09, "axis": null}, "y": {"datum": 309.7}, "fill": {"field": "fase", "type": "nominal"}}
},
{
"data": {"name": "fases"},
"transform": [{"filter": "datum.fase === 'Carbono'"}],
"mark": {"type": "text", "fontSize": 8, "color": "#333", "align": "center", "baseline": "middle"},
"encoding": {"x": {"datum": 75.75, "axis": null}, "y": {"datum": 351}, "text": {"field": "rotulo"}}
},
{
"data": {"name": "fases"},
"transform": [{"filter": "datum.fase === 'Ag'"}],
"mark": {"type": "text", "fontSize": 8, "color": "#333", "align": "center", "baseline": "middle"},
"encoding": {"x": {"datum": 94.69, "axis": null}, "y": {"datum": 245}, "text": {"field": "rotulo"}}
},
{
"data": {"name": "fases"},
"transform": [{"filter": "datum.fase === 'AgCl'"}],
"mark": {"type": "text", "fontSize": 8, "color": "#333", "align": "center", "baseline": "middle"},
"encoding": {"x": {"datum": 92.7, "axis": null}, "y": {"datum": 236.3}, "text": {"field": "rotulo"}}
}
]
}
